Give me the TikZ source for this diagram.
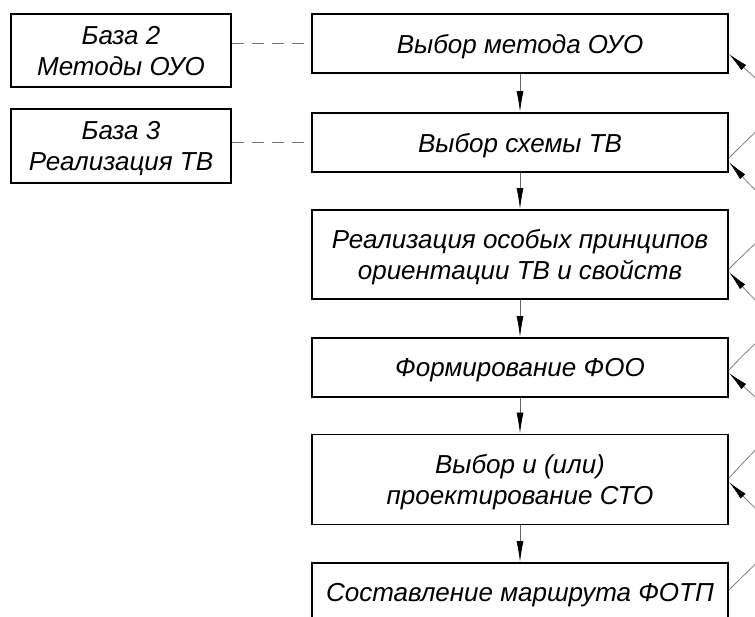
\documentclass[tikz,border=0pt]{standalone}
\usepackage{fontspec}
\setmainfont{Liberation Sans}
\usetikzlibrary{arrows.meta,calc}
\begin{document}
\begin{tikzpicture}[x=1pt,y=-1pt,
  txt/.style={font=\fontsize{26}{31}\selectfont\itshape, text depth=0pt},
  mainbox/.style={draw, line width=1.9pt, minimum width=416pt, align=center, inner sep=0pt, txt},
  basebox/.style={draw, line width=1.9pt, minimum width=220pt, align=center, inner sep=0pt, txt},
  flow/.style={draw=black!60, line width=0.8pt, -{Latex[length=21pt,width=7pt,black]}},
  link/.style={draw=black!55, line width=1pt, dash pattern=on 12pt off 8pt},
  back/.style={draw=black!50, line width=0.8pt, -{Latex[length=20pt,width=7pt,black]}}]
\useasboundingbox (0,0) rectangle (755,617);
\fill[white] (0,0) rectangle (755,617);
\clip (0,0) rectangle (755,617);

\node[mainbox, minimum height=59pt] (b1) at (520,43.5) {Выбор метода ОУО};
\node[mainbox, minimum height=59pt] (b2) at (520,142.5) {Выбор схемы ТВ};
\node[mainbox, minimum height=89pt] (b3) at (520,254.5) {Реализация особых принципов\\ориентации ТВ и свойств};
\node[mainbox, minimum height=59pt] (b4) at (520,367.5) {Формирование ФОО};
\node[mainbox, minimum height=90pt] (b5) at (520,479.5) {Выбор и (или)\\проектирование СТО};
\node[mainbox, minimum height=59pt] (b6) at (520,592.5) {Составление маршрута ФОТП};

\node[basebox, minimum height=73pt] (l1) at (121,50.5) {База 2\\Методы ОУО};
\node[basebox, minimum height=74pt] (l2) at (121,146) {База 3\\Реализация ТВ};

\draw[link] (l1.east |- b1.west) -- (b1.west);
\draw[link] (l2.east |- b2.west) -- (b2.west);

\draw[flow] (b1.south) -- (b2.north);
\draw[flow] (b2.south) -- (b3.north);
\draw[flow] (b3.south) -- (b4.north);
\draw[flow] (b4.south) -- (b5.north);
\draw[flow] (b5.south) -- (b6.north);

\draw[back] ($(b2.east)+(0,15.5)$) .. controls +(60,-60) and +(60,55) .. ($(b1.east)+(0,10.5)$);
\draw[back] ($(b3.east)+(0,14.5)$) .. controls +(60,-60) and +(60,65) .. ($(b2.east)+(0,19.5)$);
\draw[back] ($(b4.east)+(0,2.5)$) .. controls +(55,-60) and +(60,65) .. ($(b3.east)+(0,17.5)$);
\draw[back] ($(b5.east)+(0,-1.5)$) .. controls +(55,-60) and +(60,55) .. ($(b4.east)+(0,5.5)$);
\draw[back] ($(b6.east)+(0,-2.5)$) .. controls +(60,-60) and +(60,60) .. ($(b5.east)+(0,2.5)$);
\end{tikzpicture}
\end{document}
